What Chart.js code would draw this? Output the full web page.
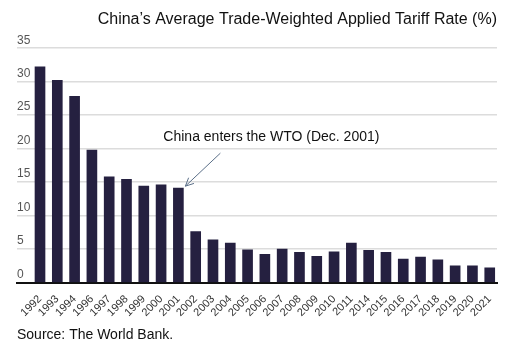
<!DOCTYPE html>
<html>
<head>
<meta charset="utf-8">
<script src="https://cdn.jsdelivr.net/npm/chart.js@4/dist/chart.umd.min.js"></script>
<style>
  html, body { margin: 0; padding: 0; background: #fff; }
  #wrap { width: 526px; height: 350px; }
</style>
</head>
<body>
<div id="wrap"><canvas id="chart" width="526" height="350"></canvas></div>
<script>
const years = ["1992", "1993", "1994", "1996", "1997", "1998", "1999", "2000", "2001", "2002",
  "2003", "2004", "2005", "2006", "2007", "2008", "2009", "2010", "2011", "2014",
  "2015", "2016", "2017", "2018", "2019", "2020", "2021"];
const tariffRate = [32.2, 30.2, 27.8, 19.8, 15.8, 15.4, 14.4, 14.6, 14.1, 7.6,
  6.4, 5.9, 4.9, 4.2, 5.0, 4.5, 3.9, 4.6, 5.9, 4.8,
  4.5, 3.5, 3.8, 3.4, 2.5, 2.5, 2.2];
const yTicks = [0, 5, 10, 15, 20, 25, 30, 35];
const wtoIndex = years.indexOf("2001");

const FONT = "'Liberation Sans', Arial, sans-serif";

const wtoNote = {
  id: "wtoNote",
  afterDatasetsDraw(chart) {
    const { ctx, scales } = chart;
    const tipX = scales.x.getPixelForValue(wtoIndex) + 7;
    const tipY = scales.y.getPixelForValue(tariffRate[wtoIndex]) - 2;
    const tailX = tipX + 35, tailY = tipY - 33;
    ctx.save();
    ctx.strokeStyle = "#5b6f88";
    ctx.lineWidth = 1;
    ctx.beginPath();
    ctx.moveTo(tailX, tailY);
    ctx.lineTo(tipX, tipY);
    ctx.stroke();
    // arrow head
    const a = Math.atan2(tipY - tailY, tipX - tailX);
    ctx.beginPath();
    ctx.moveTo(tipX - 9 * Math.cos(a - 0.45), tipY - 9 * Math.sin(a - 0.45));
    ctx.lineTo(tipX, tipY);
    ctx.lineTo(tipX - 9 * Math.cos(a + 0.45), tipY - 9 * Math.sin(a + 0.45));
    ctx.stroke();
    ctx.fillStyle = "#111";
    ctx.font = "14px " + FONT;
    ctx.textAlign = "center";
    ctx.textBaseline = "middle";
    ctx.fillText("China enters the WTO (Dec. 2001)", tipX + 86, tailY - 16);
    ctx.restore();
  }
};

new Chart(document.getElementById("chart"), {
  type: "bar",
  data: {
    datasets: [{
      data: tariffRate.map((v, i) => ({ x: i, y: v })),
      backgroundColor: "#252040",
      barThickness: 10,
    }],
  },
  options: {
    responsive: false,
    animation: false,
    layout: { padding: { left: 17, right: 29, top: 6, bottom: 2 } },
    plugins: {
      legend: { display: false },
      tooltip: { enabled: false },
      title: {
        display: true,
        text: "China\u2019s Average Trade-Weighted Applied Tariff Rate (%)",
        align: "end",
        color: "#111",
        font: { family: FONT, size: 16, weight: "normal" },
        padding: { top: 4, bottom: 19 },
      },
      subtitle: {
        display: true,
        position: "bottom",
        align: "start",
        text: "Source: The World Bank.",
        color: "#111",
        font: { family: FONT, size: 14 },
        padding: { top: 6, bottom: 4 },
      },
    },
    scales: {
      x: {
        type: "linear",
        offset: false,
        min: -1.33,
        max: 26.42,
        afterBuildTicks: (scale) => { scale.ticks = years.map((_, i) => ({ value: i })); },
        ticks: {
          autoSkip: false,
          minRotation: 45,
          maxRotation: 45,
          padding: 2,
          color: "#333",
          font: { family: FONT, size: 11 },
          callback: (v) => years[v],
        },
        grid: { display: false },
        border: { color: "#111", width: 2 },
      },
      y: {
        min: 0,
        max: 35,
        afterBuildTicks: (scale) => { scale.ticks = yTicks.map((v) => ({ value: v })); },
        ticks: {
          mirror: true,
          padding: 0,
          labelOffset: -8,
          color: "#555",
          font: { family: FONT, size: 12 },
        },
        grid: { color: "#dcdcdc", lineWidth: 1.5, drawTicks: false },
        border: { display: false },
      },
    },
  },
  plugins: [wtoNote],
});
</script>
</body>
</html>
